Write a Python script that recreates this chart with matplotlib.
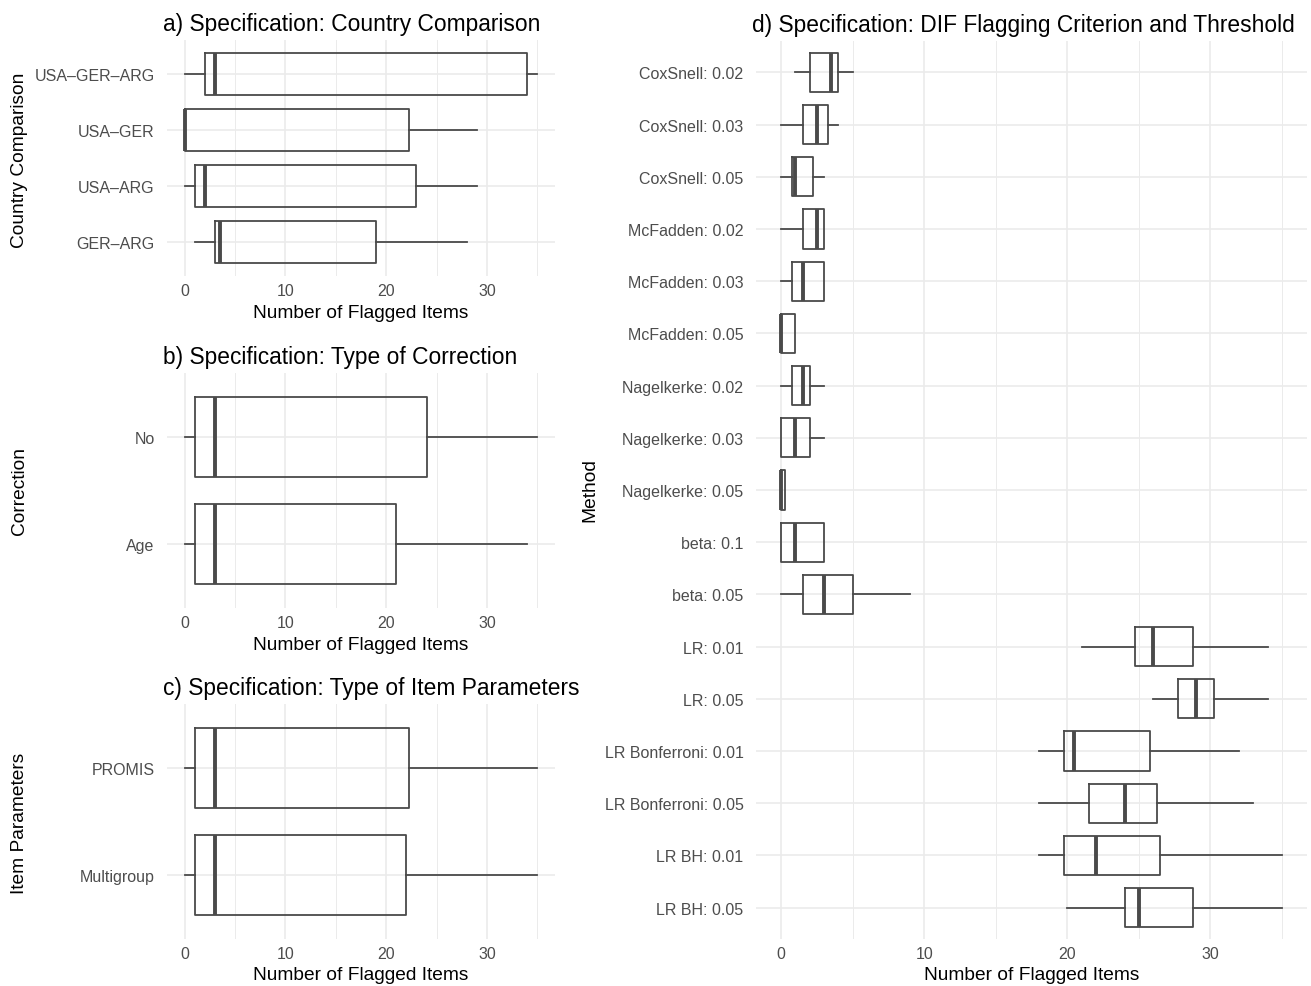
import numpy as np
import matplotlib
import matplotlib.pyplot as plt

matplotlib.rc('font', family=['Liberation Sans', 'DejaVu Sans'])

W, H = 1311, 987

# a) country comparison (top to bottom)
country = ['USA\u2013GER\u2013ARG', 'USA\u2013GER', 'USA\u2013ARG', 'GER\u2013ARG']
country_lo = [0, 0, 0, 1]
country_q1 = [2, 0, 1, 3]
country_med = [3, 0, 2, 3.5]
country_q3 = [34, 22.25, 23, 19]
country_hi = [35, 29, 29, 28]

# b) type of correction
corr = ['No', 'Age']
corr_lo = [0, 0]
corr_q1 = [1, 1]
corr_med = [3, 3]
corr_q3 = [24, 21]
corr_hi = [35, 34]

# c) item parameters
itempar = ['PROMIS', 'Multigroup']
itempar_lo = [0, 0]
itempar_q1 = [1, 1]
itempar_med = [3, 3]
itempar_q3 = [22.25, 22]
itempar_hi = [35, 35]

# d) flagging criterion and threshold
method = ['CoxSnell: 0.02', 'CoxSnell: 0.03', 'CoxSnell: 0.05',
          'McFadden: 0.02', 'McFadden: 0.03', 'McFadden: 0.05',
          'Nagelkerke: 0.02', 'Nagelkerke: 0.03', 'Nagelkerke: 0.05',
          'beta: 0.1', 'beta: 0.05', 'LR: 0.01', 'LR: 0.05',
          'LR Bonferroni: 0.01', 'LR Bonferroni: 0.05',
          'LR BH: 0.01', 'LR BH: 0.05']
method_lo = [1, 0, 0, 0, 0, 0, 0, 0, 0, 0, 0, 21, 26, 18, 18, 18, 20]
method_q1 = [2, 1.5, 0.75, 1.5, 0.75, 0, 0.75, 0, 0, 0, 1.5, 24.75, 27.75, 19.75, 21.5, 19.75, 24]
method_med = [3.5, 2.5, 1, 2.5, 1.5, 0, 1.5, 1, 0, 1, 3, 26, 29, 20.5, 24, 22, 25]
method_q3 = [4, 3.25, 2.25, 3, 3, 1, 2, 2, 0.25, 3, 5, 28.75, 30.25, 25.75, 26.25, 26.5, 28.75]
method_hi = [5, 4, 3, 3, 3, 1, 3, 3, 0.25, 3, 9, 34, 34, 32, 33, 35, 35]

LINE = '#4a4a4a'
GRID = '#ebebeb'
TICK = '#4d4d4d'


def make_ax(left, top, right, bottom):
    return fig.add_axes([left / W, 1 - bottom / H, (right - left) / W, (bottom - top) / H])


def panel(ax, labels, lo, q1, med, q3, hi, title, width_px):
    n = len(labels)
    stats = []
    for i in range(n):
        stats.append({'whislo': lo[i], 'q1': q1[i], 'med': med[i], 'q3': q3[i], 'whishi': hi[i]})
    pos = np.arange(1, n + 1)
    ax.bxp(stats, positions=pos, vert=False, widths=0.75, showfliers=False, showcaps=False,
           boxprops=dict(color=LINE, linewidth=1.3),
           whiskerprops=dict(color=LINE, linewidth=1.3),
           medianprops=dict(color=LINE, linewidth=2.8, solid_capstyle='butt'))
    ax.set_ylim(n + 0.6, 0.4)
    ax.set_xlim(-1.75, 36.75)
    ax.set_yticks(pos)
    ax.set_yticklabels(labels)
    ax.set_xticks([0, 10, 20, 30])
    ax.set_xticks([5, 15, 25, 35], minor=True)
    ax.grid(True, which='major', color=GRID, linewidth=1.2, zorder=0)
    ax.grid(True, which='minor', axis='x', color=GRID, linewidth=0.7, zorder=0)
    ax.set_axisbelow(True)
    for s in ax.spines.values():
        s.set_visible(False)
    ax.tick_params(which='both', length=0, labelsize=11.5, labelcolor=TICK)
    ax.tick_params(axis='y', pad=9)
    ax.tick_params(axis='x', pad=5)
    ax.set_xlabel('Number of Flagged Items', fontsize=13.8, labelpad=4)
    ax.set_title(title, loc='left', fontsize=16.4, pad=7, x=-4 / width_px)


fig = plt.figure(figsize=(W / 100, H / 100), dpi=100)

ax_a = make_ax(167, 41, 555, 277)
panel(ax_a, country, country_lo, country_q1, country_med, country_q3, country_hi,
      'a) Specification: Country Comparison', 388)
ax_b = make_ax(167, 374, 555, 609)
panel(ax_b, corr, corr_lo, corr_q1, corr_med, corr_q3, corr_hi,
      'b) Specification: Type of Correction', 388)
ax_c = make_ax(167, 705, 555, 940)
panel(ax_c, itempar, itempar_lo, itempar_q1, itempar_med, itempar_q3, itempar_hi,
      'c) Specification: Type of Item Parameters', 388)
ax_d = make_ax(756, 42, 1307, 940)
panel(ax_d, method, method_lo, method_q1, method_med, method_q3, method_hi,
      'd) Specification: DIF Flagging Criterion and Threshold', 551)

fig.text(20 / W, 1 - 160 / H, 'Country Comparison', rotation=90, ha='center', va='center', fontsize=13.8)
fig.text(20 / W, 1 - 491 / H, 'Correction', rotation=90, ha='center', va='center', fontsize=13.8)
fig.text(20 / W, 1 - 823 / H, 'Item Parameters', rotation=90, ha='center', va='center', fontsize=13.8)
fig.text(590 / W, 1 - 490 / H, 'Method', rotation=90, ha='center', va='center', fontsize=13.8)

fig.savefig('out.png', dpi=100, facecolor='white')
